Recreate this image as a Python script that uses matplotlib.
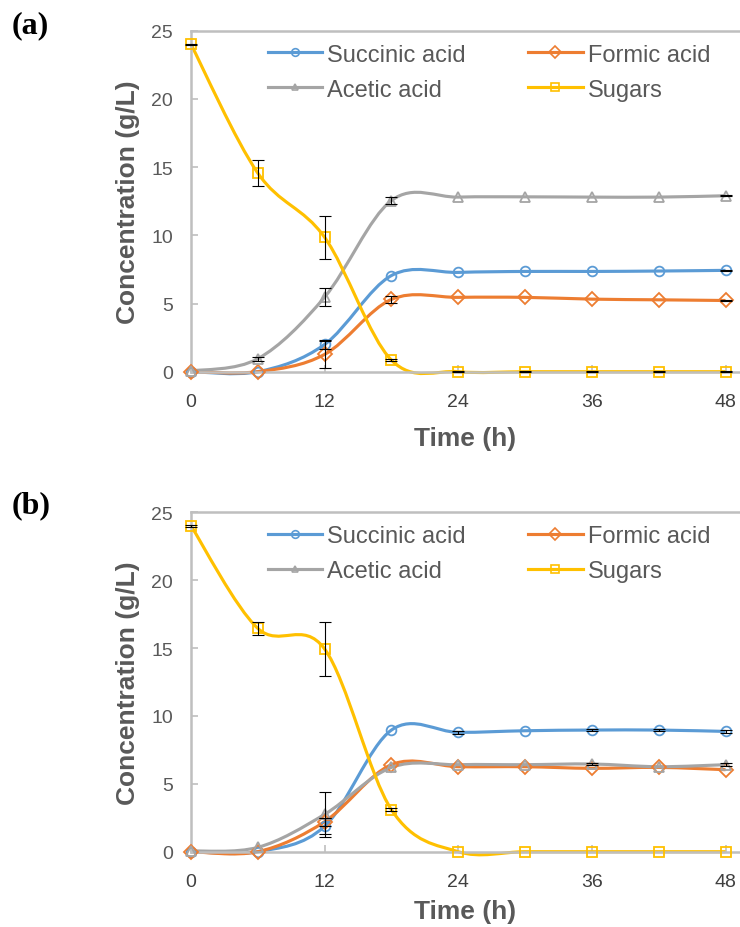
import numpy as np
import matplotlib.pyplot as plt
from matplotlib.path import Path
from matplotlib.patches import PathPatch
from matplotlib.lines import Line2D

plt.rcParams['font.family'] = ['Liberation Sans', 'DejaVu Sans']

# --- datos ---
time_h = [0, 6, 12, 18, 24, 30, 36, 42, 48]
x_ticks = [0, 12, 24, 36, 48]
y_ticks = [0, 5, 10, 15, 20, 25]

# panel (a)
succinic_a = [0.0, 0.0, 2.0, 7.05, 7.28, 7.35, 7.35, 7.38, 7.43]
formic_a = [0.0, 0.0, 1.27, 5.3, 5.45, 5.45, 5.32, 5.27, 5.22]
acetic_a = [0.05, 0.95, 5.47, 12.55, 12.8, 12.82, 12.8, 12.8, 12.9]
sugars_a = [24.0, 14.56, 9.85, 0.85, 0.0, 0.0, 0.0, 0.0, 0.0]
succinic_err_a = [0, 0, 0.3, 0, 0, 0, 0, 0, 0.05]
formic_err_a = [0, 0, 1.0, 0.25, 0, 0, 0, 0, 0.05]
acetic_err_a = [0, 0.15, 0.65, 0.25, 0, 0, 0, 0, 0.05]
sugars_err_a = [0.05, 0.97, 1.57, 0.1, 0.03, 0.03, 0.03, 0.03, 0.03]

# panel (b)
succinic_b = [0.0, 0.0, 1.87, 8.96, 8.79, 8.91, 8.96, 8.96, 8.86]
formic_b = [0.0, 0.0, 2.21, 6.41, 6.26, 6.26, 6.14, 6.21, 6.04]
acetic_b = [0.05, 0.32, 2.75, 6.21, 6.41, 6.41, 6.46, 6.26, 6.41]
sugars_b = [24.0, 16.45, 14.93, 3.09, 0.0, 0.0, 0.0, 0.0, 0.0]
succinic_err_b = [0, 0, 0.6, 0, 0.1, 0, 0.1, 0.1, 0.1]
formic_err_b = [0, 0, 0.3, 0, 0, 0, 0, 0, 0]
acetic_err_b = [0, 0, 1.65, 0, 0, 0, 0.1, 0, 0.1]
sugars_err_b = [0.05, 0.5, 1.97, 0.1, 0, 0, 0, 0, 0]

labels = ["Succinic acid", "Formic acid", "Acetic acid", "Sugars"]
colors = ["#5B9BD5", "#ED7D31", "#A5A5A5", "#FFC000"]
markers = ["o", "D", "^", "s"]
msizes = [7, 7, 6.5, 7.5]
leg_msizes = [5.5, 6.5, 5, 6]
TEXT = "#595959"
AXIS = "#BFBFBF"


def smooth_path(x, y):
    # curva suavizada tipo Excel (Catmull-Rom -> Bezier)
    pts = np.column_stack([x, y]).astype(float)
    n = len(pts)
    verts = [pts[0]]
    codes = [Path.MOVETO]
    for i in range(n - 1):
        p0 = pts[i - 1] if i > 0 else pts[i]
        p1 = pts[i]
        p2 = pts[i + 1]
        p3 = pts[i + 2] if i + 2 < n else pts[i + 1]
        verts += [p1 + (p2 - p0) / 6, p2 - (p3 - p1) / 6, p2]
        codes += [Path.CURVE4] * 3
    return Path(verts, codes)


def draw_panel(ax, series, errors, xlabel_pad):
    for k, vals in enumerate(series):
        ax.add_patch(PathPatch(smooth_path(time_h, vals), facecolor='none',
                               edgecolor=colors[k], lw=2.25, clip_on=False,
                               zorder=2 + k * 0.1))
    for k, (vals, err) in enumerate(zip(series, errors)):
        ax.plot(time_h, vals, ls='none', marker=markers[k], ms=msizes[k],
                mfc='none', mec=colors[k], mew=1.3, clip_on=False, zorder=3)
        sel = [i for i, e in enumerate(err) if e > 0]
        ax.errorbar([time_h[i] for i in sel], [vals[i] for i in sel],
                    yerr=[err[i] for i in sel], fmt='none', ecolor='black',
                    elinewidth=0.8, capsize=4, capthick=0.8, zorder=4,
                    clip_on=False)

    ax.set_xlim(0, 49.3)
    ax.set_ylim(0, 25)
    ax.set_xticks(x_ticks)
    ax.set_yticks(y_ticks)
    ax.tick_params(axis='both', direction='in', length=5, width=1.2,
                   color=AXIS, labelsize=14)
    ax.tick_params(axis='y', pad=13, labelcolor=TEXT)
    ax.tick_params(axis='x', pad=15, labelcolor="#404040")
    for side in ['left', 'bottom', 'top']:
        ax.spines[side].set_color(AXIS)
        ax.spines[side].set_linewidth(1.8)
    ax.spines['right'].set_visible(False)

    ax.set_ylabel("Concentration (g/L)", fontsize=19, fontweight='bold',
                  color=TEXT, labelpad=8)
    ax.set_xlabel("Time (h)", fontsize=19, fontweight='bold', color=TEXT,
                  labelpad=xlabel_pad)

    order = [0, 2, 1, 3]
    handles = [Line2D([], [], color=colors[k], lw=2.25, marker=markers[k],
                      ms=leg_msizes[k], mfc='none', mec=colors[k], mew=1.2)
               for k in order]
    ax.legend(handles, [labels[k] for k in order], ncol=2, loc='upper left',
              bbox_to_anchor=(0.14, 0.962), frameon=False, fontsize=17,
              handlelength=2.3, handletextpad=0.21, columnspacing=2.65,
              labelspacing=0.55, borderpad=0, borderaxespad=0,
              labelcolor=TEXT)


fig = plt.figure(figsize=(7.4, 9.28), dpi=100)
ax_a = fig.add_axes([191 / 740, 1 - 372.7 / 928, 1 - 191 / 740, 341 / 928])
ax_b = fig.add_axes([191 / 740, 1 - 852.7 / 928, 1 - 191 / 740, 339.4 / 928])

draw_panel(ax_a, [succinic_a, formic_a, acetic_a, sugars_a],
           [succinic_err_a, formic_err_a, acetic_err_a, sugars_err_a], 12)
draw_panel(ax_b, [succinic_b, formic_b, acetic_b, sugars_b],
           [succinic_err_b, formic_err_b, acetic_err_b, sugars_err_b], 7)

fig.text(12 / 740, 1 - 25.5 / 928, "(a)", family='Liberation Serif',
         fontweight='bold', fontsize=23, va='center', ha='left')
fig.text(12 / 740, 1 - 506 / 928, "(b)", family='Liberation Serif',
         fontweight='bold', fontsize=23, va='center', ha='left')

fig.savefig("out.png", dpi=100)
